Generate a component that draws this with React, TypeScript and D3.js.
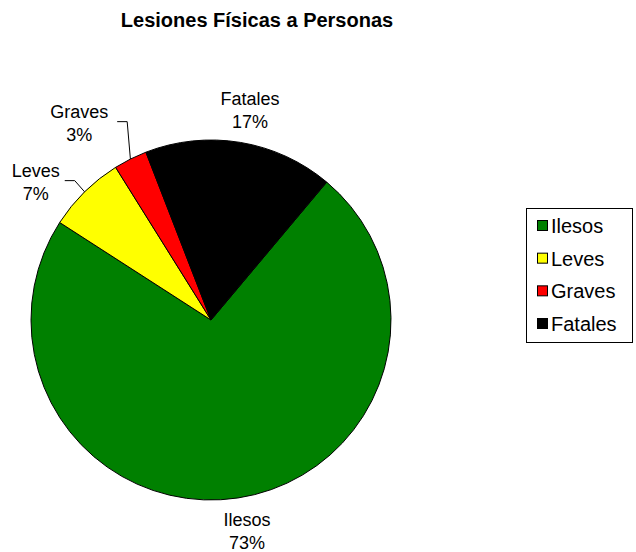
import React from "react";
import * as d3 from "d3";

const categories = ["Ilesos", "Leves", "Graves", "Fatales"];
const values = [73, 7, 3, 17];
const colors = ["#008000", "#FFFF00", "#FF0000", "#000000"];
const title = "Lesiones Físicas a Personas";

// label placement tweaks (offsets from the default label position), and leader lines
const labelOffsets: [number, number][] = [[4, -2], [-25, 13], [-36, -7], [4, 0]];
const leaderStart: (number | null)[] = [null, 29, 38, null];

const W = 636, H = 552;
const cx = 211, cy = 320, R = 180, LR = 214;
const startAngle = (40 * Math.PI) / 180;

export default function App() {
  const total = d3.sum(values);
  const pie = d3
    .pie<number>()
    .sort(null)
    .value((d) => d)
    .startAngle(startAngle)
    .endAngle(startAngle + 2 * Math.PI);
  const arcs = pie(values);
  const arc = d3.arc<d3.PieArcDatum<number>>().innerRadius(0).outerRadius(R);
  const font = "Arial, 'Liberation Sans', sans-serif";
  const legendY = d3.scalePoint<string>().domain(categories).range([226, 324]);

  return (
    <svg width={W} height={H} style={{ position: "absolute", left: 0, top: 0, background: "#fff" }} fontFamily={font}>
      <text x={257} y={27} textAnchor="middle" fontWeight="bold" fontSize={20}>
        {title}
      </text>
      <g transform={`translate(${cx},${cy})`}>
        {arcs.map((a, i) => (
          <path key={i} d={arc(a) || ""} fill={colors[i]} stroke="#000" strokeWidth={1} />
        ))}
        {arcs.map((a, i) => {
          const mid = (a.startAngle + a.endAngle) / 2;
          const lx = Math.sin(mid) * LR + labelOffsets[i][0];
          const ly = -Math.cos(mid) * LR + labelOffsets[i][1];
          const ex = Math.sin(mid) * R;
          const ey = -Math.cos(mid) * R;
          const pct = Math.round((values[i] / total) * 100) + "%";
          const ls = leaderStart[i];
          return (
            <g key={"l" + i}>
              {ls !== null && (
                <polyline
                  points={`${lx + ls},${ly} ${lx + ls + 10},${ly} ${ex},${ey}`}
                  fill="none"
                  stroke="#000"
                  strokeWidth={1}
                />
              )}
              <text x={lx} y={ly - 4} textAnchor="middle" fontSize={18}>
                {categories[i]}
              </text>
              <text x={lx} y={ly + 19} textAnchor="middle" fontSize={18}>
                {pct}
              </text>
            </g>
          );
        })}
      </g>
      <rect x={526.5} y={208.5} width={106} height={134} fill="#fff" stroke="#000" strokeWidth={1} />
      {categories.map((c, i) => (
        <g key={"lg" + i}>
          <rect x={537.5} y={(legendY(c) as number) - 5.5} width={10} height={10} fill={colors[i]} stroke="#000" strokeWidth={1} />
          <text x={551} y={(legendY(c) as number) + 7} fontSize={20}>
            {c}
          </text>
        </g>
      ))}
    </svg>
  );
}
